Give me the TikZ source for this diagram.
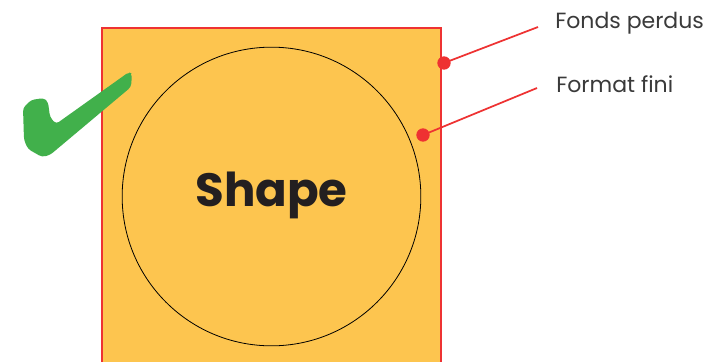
\documentclass[tikz,border=0pt]{standalone}
\usepackage{fontspec}
\setmainfont{Poppins}
\usetikzlibrary{positioning,calc}

\definecolor{sheetorange}{HTML}{FDC54F}
\definecolor{bleedred}{HTML}{EE3232}
\definecolor{tickgreen}{HTML}{41B04B}
\definecolor{labelgrey}{HTML}{3A3A3A}
\definecolor{inkdark}{HTML}{231F20}

\begin{document}
\begin{tikzpicture}[x=0.75pt,y=-0.75pt,
    marker/.style={circle,fill=bleedred,inner sep=0pt,minimum size=10pt},
    leader/.style={bleedred,line width=1.3pt},
    callout/.style={anchor=west,text=labelgrey,font=\fontsize{16.5}{18}\selectfont,inner sep=0pt}]

  % -- FRAME ---------------------------------------------------------
  \clip (0,0) rectangle (706,361);
  \fill[white] (0,0) rectangle (706,361);

  % -- SHEET & SHAPE -------------------------------------------------
  \draw[fill=sheetorange,draw=bleedred,line width=1.3pt] (102,28) rectangle (441,380);
  \node[circle,draw=black,line width=0.6pt,minimum size=224pt,inner sep=0pt] (shape) at (271.5,196.5) {};
  \node[text=inkdark,font=\fontsize{35}{38}\selectfont\bfseries] (shapetext) at (271.5,195) {Shape};

  % -- CHECK MARK ----------------------------------------------------
  \fill[tickgreen,rounded corners=2.5pt]
    (129,72) -- (132,74) -- (131,87) -- (50,155) -- (42,157) -- (28,149)
    -- (24,140) -- (23,108) -- (31,100) -- (44,98) -- (48,102)
    -- (50,117) -- (56,124) -- cycle;

  % -- CALLOUTS ------------------------------------------------------
  \node[marker] (bleeddot) at (444,63) {};
  \node[marker] (trimdot) at (423,135) {};

  \node[callout] (bleedlabel) at (555,23) {Fonds perdus};
  \node[callout] (trimlabel) at (556,84) {Format fini};

  \coordinate (bleedend) at ($(bleedlabel.west)+(-17,4)$);
  \coordinate (trimend) at ($(trimlabel.west)+(-19,4)$);
  \draw[leader] (bleeddot.center) -- (bleedend);
  \draw[leader] (trimdot.center) -- (trimend);

\end{tikzpicture}
\end{document}
